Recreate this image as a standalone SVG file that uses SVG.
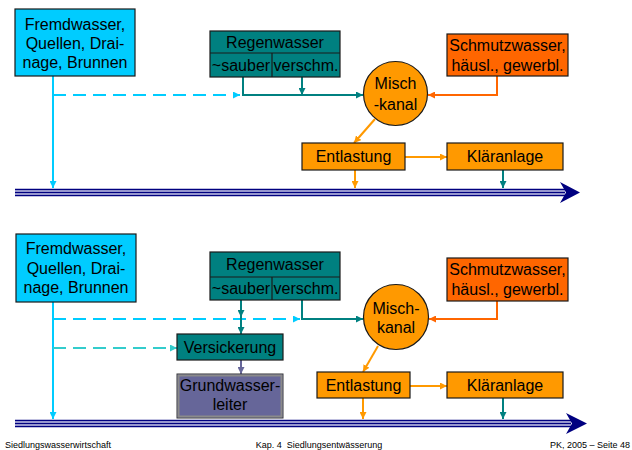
<svg xmlns="http://www.w3.org/2000/svg" width="632" height="450" viewBox="0 0 632 450">
<style>
text{font-family:"Liberation Sans",Arial,sans-serif;font-size:16px;fill:#000;text-anchor:middle}
.ft{font-size:9px}
.box{stroke:#1a1a1a;stroke-width:1.2}
.cy{fill:#00CCFF}.tl{fill:#008080}.or{fill:#FF9900}.so{fill:#FF6600}.pu{fill:#666699}
.c{fill:none;stroke-width:2}
.lc{stroke:#00CCFF}.lt{stroke:#008080}.lo{stroke:#FF9900}.ls{stroke:#FF6600}.lp{stroke:#666699}.lq{stroke:#33CCCC}
.d{stroke-dasharray:13 7}
.rv{stroke:#000080;stroke-width:1.6}
</style>
<defs>
<marker id="mc" viewBox="0 0 10 10" refX="10" refY="5" markerWidth="7" markerHeight="7" markerUnits="userSpaceOnUse" orient="auto"><path d="M0,0L10,5L0,10z" fill="#00CCFF"/></marker>
<marker id="mq" viewBox="0 0 10 10" refX="10" refY="5" markerWidth="7" markerHeight="7" markerUnits="userSpaceOnUse" orient="auto"><path d="M0,0L10,5L0,10z" fill="#33CCCC"/></marker>
<marker id="mt" viewBox="0 0 10 10" refX="10" refY="5" markerWidth="7" markerHeight="7" markerUnits="userSpaceOnUse" orient="auto"><path d="M0,0L10,5L0,10z" fill="#008080"/></marker>
<marker id="mo" viewBox="0 0 10 10" refX="10" refY="5" markerWidth="7" markerHeight="7" markerUnits="userSpaceOnUse" orient="auto"><path d="M0,0L10,5L0,10z" fill="#FF9900"/></marker>
<marker id="ms" viewBox="0 0 10 10" refX="10" refY="5" markerWidth="7" markerHeight="7" markerUnits="userSpaceOnUse" orient="auto"><path d="M0,0L10,5L0,10z" fill="#FF6600"/></marker>
<marker id="mp" viewBox="0 0 10 10" refX="10" refY="5" markerWidth="7" markerHeight="7" markerUnits="userSpaceOnUse" orient="auto"><path d="M0,0L10,5L0,10z" fill="#666699"/></marker>
</defs>
<rect width="632" height="450" fill="#fff"/>

<g id="connectors">
<path class="c lc" d="M53,76V188" marker-end="url(#mc)"/>
<path class="c lc d" d="M53,95H240" marker-end="url(#mc)"/>
<path class="c lt" d="M243,77V95H363" marker-end="url(#mt)"/>
<path class="c lt" d="M302,77V95" marker-end="url(#mt)"/>
<path class="c ls" d="M497,76V95H428" marker-end="url(#ms)"/>
<path class="c lo" d="M375,119L354,143" marker-end="url(#mo)"/>
<path class="c lo" d="M405,157H447" marker-end="url(#mo)"/>
<path class="c lo" d="M355,170V188" marker-end="url(#mo)"/>
<path class="c lt" d="M503,170V188" marker-end="url(#mt)"/>
<path class="c lc" d="M53,302V419" marker-end="url(#mc)"/>
<path class="c lc d" d="M53,319H300" marker-end="url(#mc)"/>
<path class="c lq d" d="M53,348H177" marker-end="url(#mq)"/>
<path class="c lt" d="M241,300V317" marker-end="url(#mt)"/>
<path class="c lt" d="M241,317V334" marker-end="url(#mt)"/>
<path class="c lt" d="M302,300V319H363" marker-end="url(#mt)"/>
<path class="c lp" d="M241,360V374" marker-end="url(#mp)"/>
<path class="c ls" d="M497,301V319H429" marker-end="url(#ms)"/>
<path class="c lo" d="M378,346L363,372" marker-end="url(#mo)"/>
<path class="c lo" d="M410,386H447" marker-end="url(#mo)"/>
<path class="c lo" d="M363,398V419" marker-end="url(#mo)"/>
<path class="c lt" d="M503,398V419" marker-end="url(#mt)"/>
</g>

<g id="river-top">
<rect x="15" y="189" width="550" height="7" fill="#C8C8E8"/>
<path class="rv" d="M15,189.5H565M15,192.5H565M15,195.5H565"/>
<polygon points="560,182 580,192.5 560,203 566,192.5" fill="#000080"/>
</g>
<g id="river-bottom">
<rect x="15" y="420" width="556" height="7" fill="#C8C8E8"/>
<path class="rv" d="M15,420.5H571M15,423.5H571M15,426.5H571"/>
<polygon points="566,413 587,423.5 566,434 572,423.5" fill="#000080"/>
</g>

<g id="fremd1"><rect class="box cy" x="15" y="9" width="120" height="67"/>
<text x="75" y="29.5">Fremdwasser,</text><text x="75" y="48.5">Quellen, Drai-</text><text x="75" y="67.5">nage, Brunnen</text></g>
<g id="regen1"><rect class="box tl" x="210" y="31" width="130" height="46"/>
<path d="M210,53H340M272,53V77" stroke="#1a1a1a" stroke-width="1.2"/>
<text x="275" y="48">Regenwasser</text><text x="241" y="71">~sauber</text><text x="306" y="71">verschm.</text></g>
<g id="misch1"><circle class="box or" cx="395.5" cy="93.5" r="32"/>
<text x="395.5" y="89">Misch</text><text x="395.5" y="110">-kanal</text></g>
<g id="schmutz1"><rect class="box so" x="447" y="34" width="121" height="42"/>
<text x="507.5" y="51">Schmutzwasser,</text><text x="507.5" y="71">häusl., gewerbl.</text></g>
<g id="entl1"><rect class="box or" x="302" y="143" width="103" height="27"/><text x="353.5" y="162">Entlastung</text></g>
<g id="klaer1"><rect class="box or" x="447" y="143" width="116" height="27"/><text x="505" y="162">Kläranlage</text></g>

<g id="fremd2"><rect class="box cy" x="16" y="234" width="120" height="68"/>
<text x="76" y="253.5">Fremdwasser,</text><text x="76" y="273.5">Quellen, Drai-</text><text x="76" y="292.5">nage, Brunnen</text></g>
<g id="regen2"><rect class="box tl" x="210" y="252" width="130" height="48"/>
<path d="M210,277H340M272,277V300" stroke="#1a1a1a" stroke-width="1.2"/>
<text x="275" y="270">Regenwasser</text><text x="241" y="294">~sauber</text><text x="306" y="294">verschm.</text></g>
<g id="versick"><rect class="box tl" x="177" y="334" width="106" height="26"/><text x="230" y="352.5">Versickerung</text></g>
<g id="grund"><rect x="177" y="374" width="106" height="44" fill="#666699" stroke="#333" stroke-width="1"/>
<rect x="178.5" y="375.5" width="103" height="41" fill="none" stroke="#8a8a8a" stroke-width="2"/>
<text x="230" y="391">Grundwasser-</text><text x="230" y="409.5">leiter</text></g>
<g id="misch2"><circle class="box or" cx="396" cy="317" r="32.5"/>
<text x="396" y="313.5">Misch-</text><text x="396" y="332.5">kanal</text></g>
<g id="schmutz2"><rect class="box so" x="447" y="258" width="121" height="43"/>
<text x="507.5" y="274.5">Schmutzwasser,</text><text x="507.5" y="294.5">häusl., gewerbl.</text></g>
<g id="entl2"><rect class="box or" x="317" y="372" width="93" height="26"/><text x="363.5" y="390.5">Entlastung</text></g>
<g id="klaer2"><rect class="box or" x="447" y="372" width="116" height="26"/><text x="505" y="390.5">Kläranlage</text></g>

<g id="footer">
<text class="ft" x="5" y="448" style="text-anchor:start">Siedlungswasserwirtschaft</text>
<text class="ft" x="319" y="448">Kap. 4&#160; Siedlungsentwässerung</text>
<text class="ft" x="630" y="448" style="text-anchor:end">PK, 2005 – Seite 48</text>
</g>
</svg>
